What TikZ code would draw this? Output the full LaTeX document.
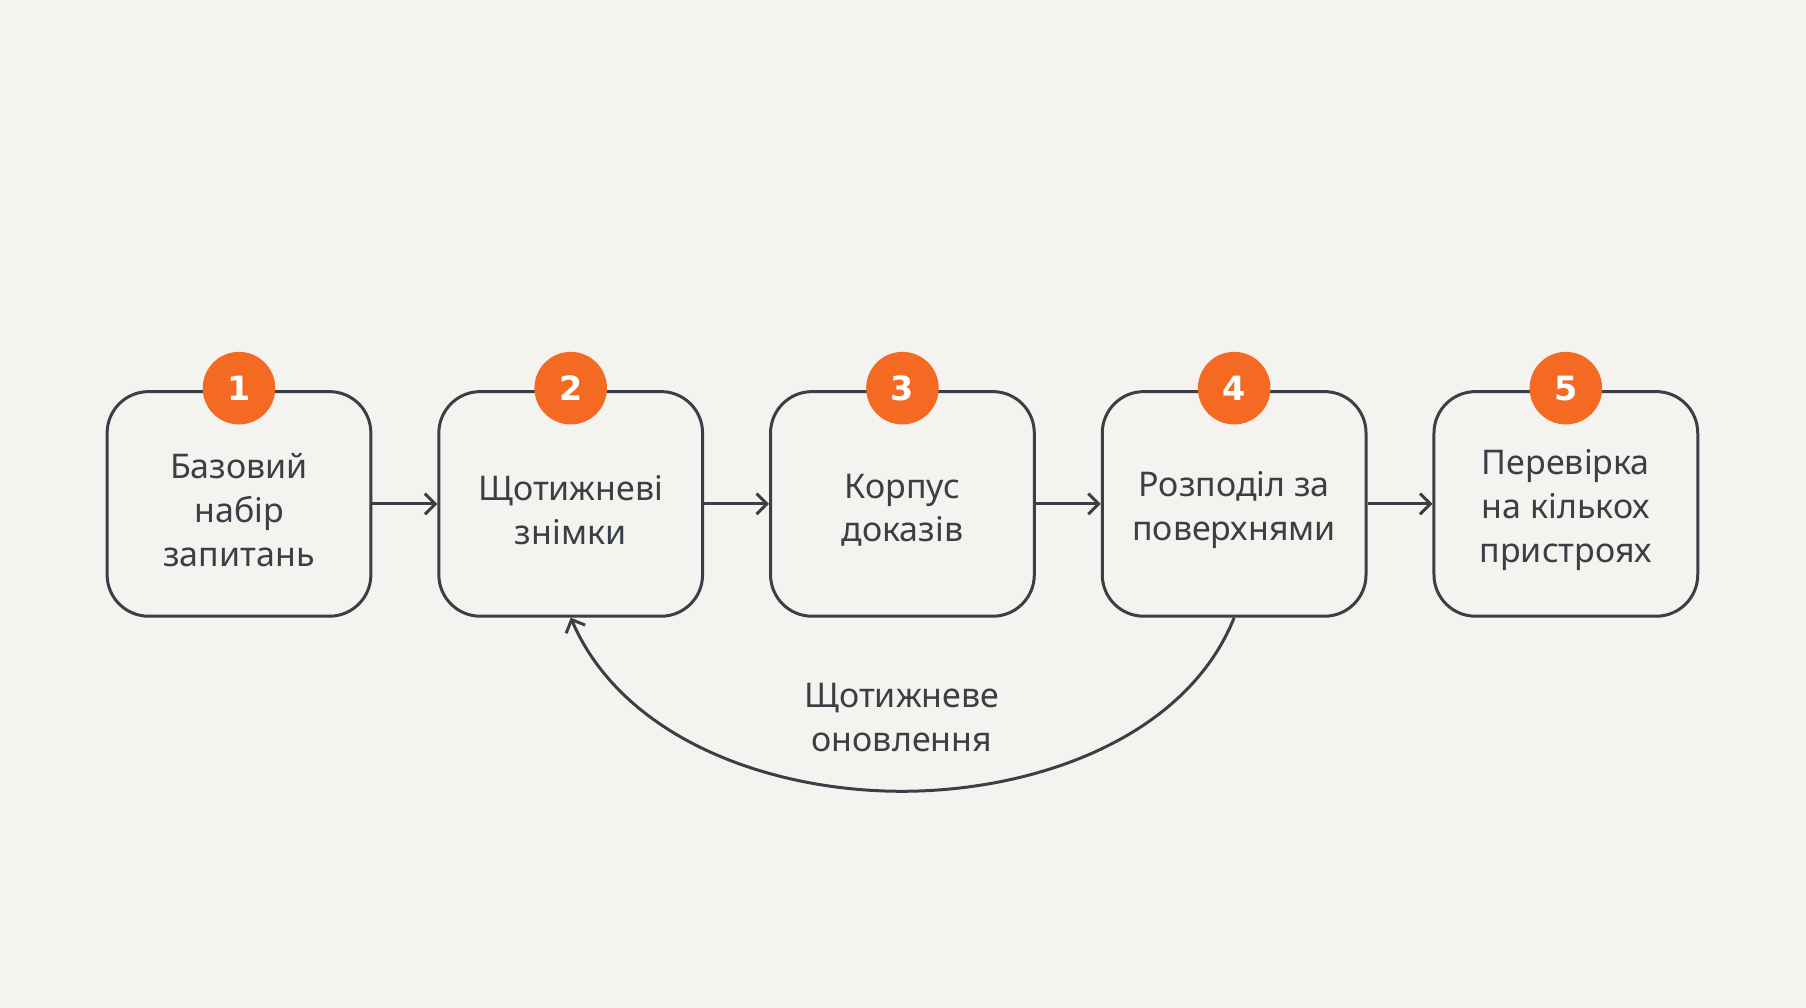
\documentclass[tikz,border=0pt]{standalone}
\usepackage{fontspec}
\setmainfont{Noto Sans}
\newfontfamily\numf{DejaVu Sans}
\usetikzlibrary{arrows.meta}
\definecolor{bg}{HTML}{F4F3EF}
\definecolor{ln}{HTML}{3A3F45}
\definecolor{org}{HTML}{F56A22}
\begin{document}
\begin{tikzpicture}[x=1pt,y=-1pt,
  box/.style={draw=ln,line width=2.6pt,rounded corners=36pt,minimum width=229pt,minimum height=195pt,inner sep=0pt,align=center,text=ln},
  txt/.style={align=center,font=\fontsize{29.5}{38}\selectfont,text=ln},
  num/.style={circle,fill=org,minimum size=63pt,inner sep=0pt,text=white,font=\numf\fontsize{29}{29}\selectfont\bfseries},
  arr/.style={draw=ln,line width=2.6pt,-{Straight Barb[length=9pt,width=18pt,line width=2.6pt]}}]
\fill[bg] (0,0) rectangle (1568,875);
\useasboundingbox (0,0) rectangle (1568,875);
\foreach \i/\x/\t in {1/207.5/{Базовий\\набір\\запитань},2/495.5/{Щотижневі\\знімки},3/783.5/{Корпус\\доказів},4/1071.5/{Розподіл за\\поверхнями},5/1359.5/{Перевірка\\на кількох\\пристроях}}{
  \node[box] (b\i) at (\x,437.5) {};
  \node[txt] (t\i) at (\x,443) {\t};
  \node[num] (n\i) at (\x,337) {\i};
}
\draw[arr] (b1) -- (b2);
\draw[arr] (b2) -- (b3);
\draw[arr] (b3) -- (b4);
\draw[arr] (b4) -- (b5);
\draw[arr] (b4.south) .. controls (1030,640) and (900,687) .. (783,687)
  .. controls (666,687) and (540,640) .. (b2.south);
\node[txt] (lbl) at (783,623) {Щотижневе\\оновлення};
\end{tikzpicture}
\end{document}
